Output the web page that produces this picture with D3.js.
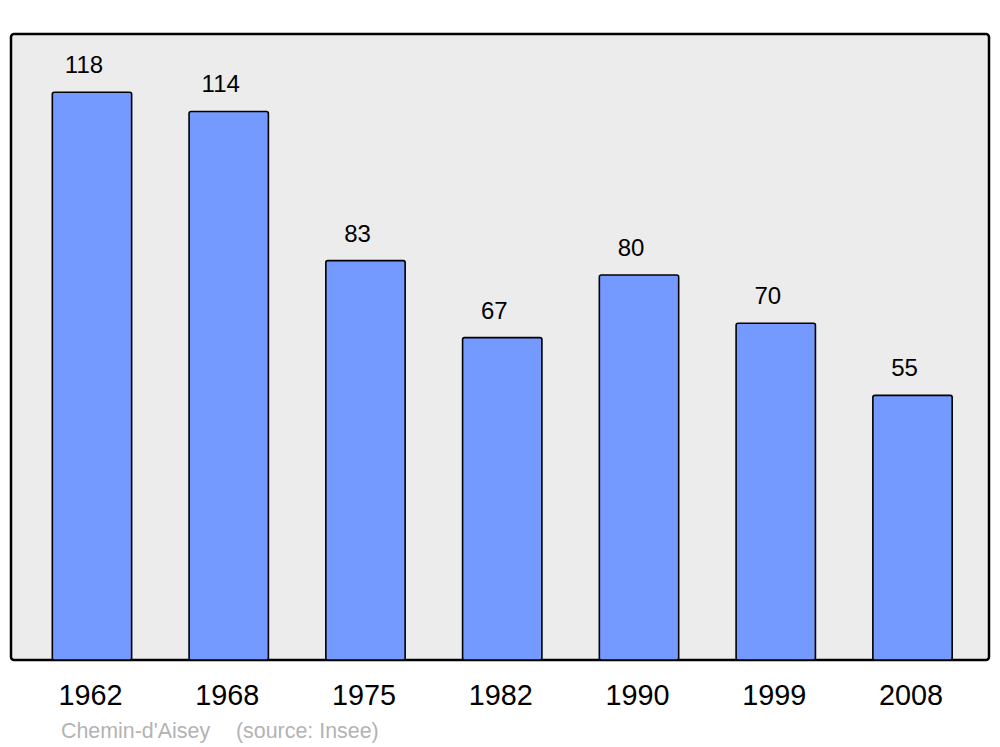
<!DOCTYPE html>
<html><head><meta charset="utf-8">
<script src="https://cdn.jsdelivr.net/npm/d3@7/dist/d3.min.js"></script>
<style>body{margin:0;background:#fff}svg{display:block}text{font-family:"Liberation Sans",Arial,sans-serif}</style>
</head><body>
<script>
const years = ["1962","1968","1975","1982","1990","1999","2008"];
const population = [118,114,83,67,80,70,55];
const caption = "Chemin-d'Aisey";
const source = "(source: Insee)";

const W=1000,H=747;
const svg=d3.select("body").append("svg").attr("width",W).attr("height",H);
const frame={x0:11,y0:34,x1:989,y1:660};
const x=d3.scaleBand().domain(years).range([23.6,980.9]).paddingInner(0.42).paddingOuter(0.21);
const y=d3.scaleLinear().domain([0,130.1]).range([frame.y1,frame.y0]);

svg.append("rect").attr("x",frame.x0).attr("y",frame.y0).attr("width",frame.x1-frame.x0).attr("height",frame.y1-frame.y0)
  .attr("rx",3).attr("fill","#ececec").attr("stroke","#000").attr("stroke-width",2.5);

const data=years.map((d,i)=>({year:d,v:population[i]}));
svg.selectAll("rect.bar").data(data).enter().append("rect").attr("class","bar")
  .attr("x",d=>x(d.year)).attr("width",x.bandwidth())
  .attr("y",d=>y(d.v)).attr("height",d=>y(0)-y(d.v))
  .attr("rx",2).attr("fill","#7499ff").attr("stroke","#000").attr("stroke-width",1.6);

svg.selectAll("text.val").data(data).enter().append("text").attr("class","val")
  .attr("x",d=>x(d.year)+x.bandwidth()/2-8).attr("y",d=>y(d.v)-19)
  .attr("text-anchor","middle").attr("font-size",24).attr("fill","#000").text(d=>d.v);

svg.selectAll("text.yr").data(data).enter().append("text").attr("class","yr")
  .attr("x",d=>x(d.year)+x.bandwidth()/2-1.5).attr("y",705)
  .attr("text-anchor","middle").attr("font-size",28.8).attr("fill","#000").text(d=>d.year);

svg.append("text").attr("x",61).attr("y",738).attr("font-size",21.4).attr("fill","#b3b3b3").text(caption);
svg.append("text").attr("x",236).attr("y",738).attr("font-size",21.4).attr("fill","#b3b3b3").text(source);
</script>
</body></html>
